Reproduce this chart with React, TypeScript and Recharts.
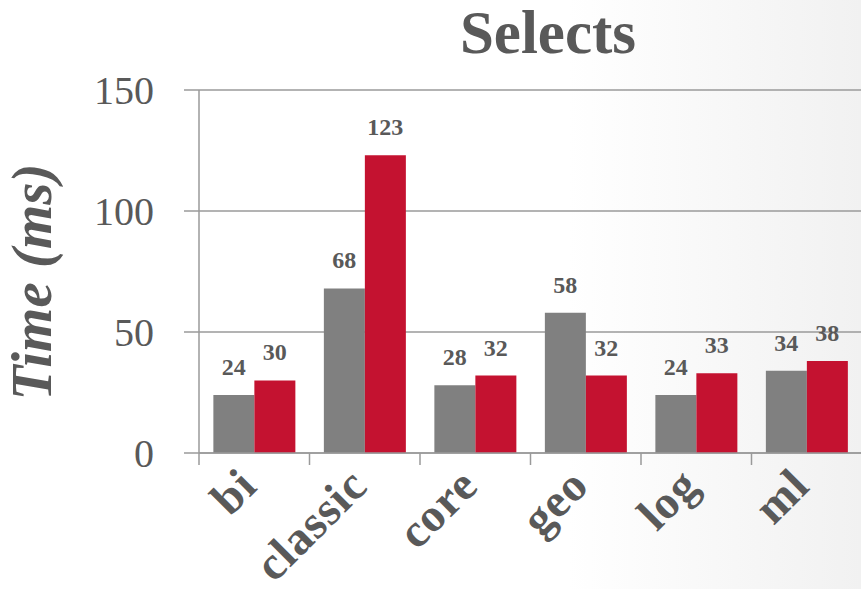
import React from 'react';
import { BarChart, Bar, XAxis, YAxis, CartesianGrid, LabelList } from 'recharts';

const categories = ['bi', 'classic', 'core', 'geo', 'log', 'ml'];
const greyValues = [24, 68, 28, 58, 24, 34];
const redValues = [30, 123, 32, 32, 33, 38];
const yTicks = [0, 50, 100, 150];

const data = categories.map((c, i) => ({ cat: c, grey: greyValues[i], red: redValues[i] }));

const CHART_W = 870;
const CHART_H = 589;
const Y_AXIS_W = 199;
const MARGIN = { top: 90, right: 8, left: 0, bottom: 116 };
const PLOT_W = CHART_W - MARGIN.right - MARGIN.left - Y_AXIS_W;

const TEXT = '#595959';
const AXIS = '#9a9a9a';
const FONT = '"Liberation Serif", "Times New Roman", serif';

const XTick = (props: any) => {
  const { x, y, payload, index } = props;
  const band = PLOT_W / categories.length;
  const tx = x + 5;
  const ty = y + 35;
  return (
    <g>
      <line x1={x - band / 2} x2={x - band / 2} y1={y} y2={y + 12} stroke={AXIS} strokeWidth={1.5} />
      {index === categories.length - 1 && (
        <line x1={x + band / 2} x2={x + band / 2} y1={y} y2={y + 12} stroke={AXIS} strokeWidth={1.5} />
      )}
      <text
        x={tx}
        y={ty}
        transform={`rotate(-45, ${tx}, ${ty})`}
        textAnchor="end"
        fontSize={47}
        fontWeight="bold"
        fill={TEXT}
        fontFamily={FONT}
        letterSpacing={1}
      >
        {payload.value}
      </text>
    </g>
  );
};

export default function App() {
  return (
    <div
      style={{
        position: 'absolute',
        left: 0,
        top: 0,
        width: 861,
        height: 589,
        overflow: 'hidden',
        background: 'linear-gradient(to right, #ffffff 0%, #ffffff 66%, #f1f1f1 100%)',
        fontFamily: FONT,
      }}
    >
      <BarChart
        width={CHART_W}
        height={CHART_H}
        data={data}
        margin={MARGIN}
        barCategoryGap="13%"
        barGap={0}
      >
        <CartesianGrid vertical={false} stroke={AXIS} strokeWidth={1.5} />
        <XAxis
          dataKey="cat"
          height={20}
          axisLine={{ stroke: AXIS, strokeWidth: 1.5 }}
          tickLine={false}
          tickSize={0}
          tickMargin={0}
          interval={0}
          tick={<XTick />}
        />
        <YAxis
          width={Y_AXIS_W}
          domain={[0, 150]}
          ticks={yTicks}
          interval={0}
          tickSize={15}
          tickMargin={30}
          axisLine={{ stroke: AXIS, strokeWidth: 1.5 }}
          tickLine={{ stroke: AXIS, strokeWidth: 1.5 }}
          tick={{ fill: TEXT, fontSize: 40, fontFamily: FONT }}
        />
        <Bar dataKey="grey" fill="#808080" isAnimationActive={false}>
          <LabelList dataKey="grey" position="top" offset={20} fill={TEXT} fontSize={24} fontWeight="bold" fontFamily={FONT} />
        </Bar>
        <Bar dataKey="red" fill="#c41230" isAnimationActive={false}>
          <LabelList dataKey="red" position="top" offset={20} fill={TEXT} fontSize={24} fontWeight="bold" fontFamily={FONT} />
        </Bar>
        <text x={548} y={53} textAnchor="middle" fontSize={61} fontWeight="bold" fill={TEXT} fontFamily={FONT}>
          Selects
        </text>
        <text
          transform="translate(51, 282) rotate(-90)"
          textAnchor="middle"
          fontSize={57}
          fontWeight="bold"
          fontStyle="italic"
          fill={TEXT}
          fontFamily={FONT}
        >
          Time (ms)
        </text>
      </BarChart>
    </div>
  );
}
